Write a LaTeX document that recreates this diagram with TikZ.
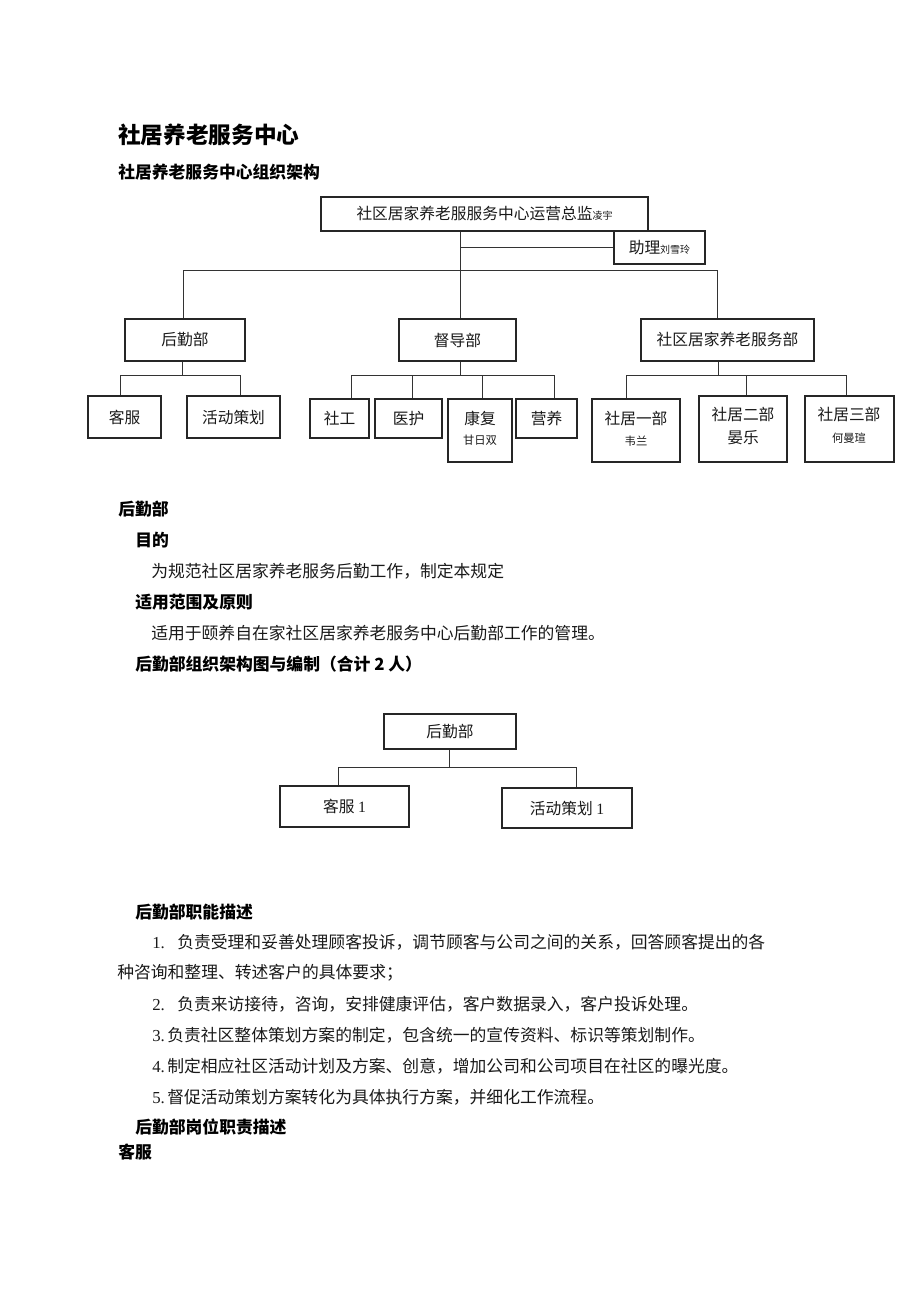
\documentclass[tikz,border=0pt]{standalone}
\usepackage{fontspec}
\setmainfont{Noto Sans CJK SC}
\newfontfamily\latn{Liberation Serif}
\usetikzlibrary{fit}
\begin{document}
\begin{tikzpicture}[x=0.75pt,y=-0.75pt,
  box/.style={draw=black!85, line width=0.8pt, inner sep=0pt, fit={#1}},
  wire/.style={draw=black!80, line width=0.75pt},
  txt/.style={inner sep=0pt, font=\fontsize{11.8}{14}\selectfont, text=black!90},
  sm/.style={inner sep=0pt, font=\fontsize{8.5}{10}\selectfont, text=black!90},
  body/.style={inner sep=0pt, anchor=west, font=\fontsize{12.6}{15}\selectfont, text=black!90},
  head/.style={inner sep=0pt, anchor=west, font=\fontsize{12.6}{15}\selectfont\bfseries, text=black},
  title/.style={inner sep=0pt, anchor=west, font=\fontsize{17}{20}\selectfont\bfseries, text=black}]
\useasboundingbox (0,0) rectangle (920,1302);
\newcommand{\tinyname}[1]{{\fontsize{7.5}{9}\selectfont #1}}
\newcommand{\numw}[1]{\makebox[18.75pt][l]{\latn #1}}
\newcommand{\numn}[1]{\makebox[11.25pt][l]{\latn #1}}

% headings
\node[title] (t1) at (118,135) {社居养老服务中心};
\node[head] (t2) at (118,172) {社居养老服务中心组织架构};

% ---------- main chart ----------
\node[box={(321,197)(648,231)}] (ceo) {};
\node[txt] (ceot) at (ceo.center) {社区居家养老服服务中心运营总监\tinyname{凌宇}};
\node[box={(614,231)(705,264)}] (asst) {};
\node[txt] (asstt) at (asst.center) {助理\tinyname{刘雪玲}};

\coordinate (bus0) at (460,270);
\coordinate (busL) at (183,270);
\coordinate (busR) at (717,270);
\draw[wire] (bus0 |- ceo.south) -- (bus0);
\draw[wire] (bus0 |- asst.west) -- (asst.west);
\draw[wire] (busL) -- (busR);

\node[box={(125,319)(245,361)}] (hq) {};
\node[txt] (hqt) at (hq.center) {后勤部};
\node[box={(399,319)(516,361)}] (sup) {};
\node[txt] (supt) at (sup.center) {督导部};
\node[box={(641,319)(814,361)}] (svc) {};
\node[txt] (svct) at (svc.center) {社区居家养老服务部};

\draw[wire] (busL) -- (busL |- hq.north);
\draw[wire] (bus0) -- (bus0 |- sup.north);
\draw[wire] (busR) -- (busR |- svc.north);

% hq children
\node[box={(88,396)(161,438)}] (kf) {};
\node[txt] (kft) at (kf.center) {客服};
\node[box={(187,396)(280,438)}] (hd) {};
\node[txt] (hdt) at (hd.center) {活动策划};
\coordinate (hqb) at (182,375);
\coordinate (hqbl) at (120,375);
\coordinate (hqbr) at (240,375);
\draw[wire] (hqb |- hq.south) -- (hqb);
\draw[wire] (hqbl |- kf.north) -- (hqbl) -- (hqbr) -- (hqbr |- hd.north);

% sup children
\node[box={(310,399)(369,438)}] (sg) {};
\node[txt] (sgt) at (sg.center) {社工};
\node[box={(375,399)(442,438)}] (yh) {};
\node[txt] (yht) at (yh.center) {医护};
\node[box={(448,399)(512,462)}] (kfu) {};
\node[txt] (kfut) at (480,418) {康复};
\node[sm] (kfun) at (480,440) {甘日双};
\node[box={(516,399)(577,438)}] (yy) {};
\node[txt] (yyt) at (yy.center) {营养};
\coordinate (supb) at (460,375);
\coordinate (sb1) at (351,375);
\coordinate (sb2) at (412,375);
\coordinate (sb3) at (482,375);
\coordinate (sb4) at (554,375);
\draw[wire] (supb |- sup.south) -- (supb);
\draw[wire] (sb1) -- (sb4);
\draw[wire] (sb1) -- (sb1 |- sg.north);
\draw[wire] (sb2) -- (sb2 |- yh.north);
\draw[wire] (sb3) -- (sb3 |- kfu.north);
\draw[wire] (sb4) -- (sb4 |- yy.north);

% svc children
\node[box={(592,399)(680,462)}] (s1) {};
\node[txt] (s1t) at (636,418) {社居一部};
\node[sm] (s1n) at (636,441) {韦兰};
\node[box={(699,396)(787,462)}] (s2) {};
\node[txt] (s2t) at (743,414) {社居二部};
\node[txt] (s2n) at (743,438) {晏乐};
\node[box={(805,396)(894,462)}] (s3) {};
\node[txt] (s3t) at (849,414) {社居三部};
\node[sm] (s3n) at (849,438) {何曼瑄};
\coordinate (svcb) at (718,375);
\coordinate (vb1) at (626,375);
\coordinate (vb2) at (746,375);
\coordinate (vb3) at (846,375);
\draw[wire] (svcb |- svc.south) -- (svcb);
\draw[wire] (vb1) -- (vb3);
\draw[wire] (vb1) -- (vb1 |- s1.north);
\draw[wire] (vb2) -- (vb2 |- s2.north);
\draw[wire] (vb3) -- (vb3 |- s3.north);

% ---------- text section 1 ----------
\node[head] (h1) at (118,509) {后勤部};
\node[head] (h2) at (135,540) {目的};
\node[body] (b1) at (151,571) {为规范社区居家养老服务后勤工作，制定本规定};
\node[head] (h3) at (135,602) {适用范围及原则};
\node[body] (b2) at (151,633) {适用于颐养自在家社区居家养老服务中心后勤部工作的管理。};
\node[head] (h4) at (135,664) {后勤部组织架构图与编制（合计 2 人）};

% ---------- second chart ----------
\node[box={(384,714)(516,749)}] (hq2) {};
\node[txt] (hq2t) at (hq2.center) {后勤部};
\node[box={(280,786)(409,827)}] (kf2) {};
\node[txt] (kf2t) at (kf2.center) {客服 {\latn 1}};
\node[box={(502,788)(632,828)}] (hd2) {};
\node[txt] (hd2t) at (hd2.center) {活动策划 {\latn 1}};
\coordinate (b2c) at (449,767);
\coordinate (b2l) at (338,767);
\coordinate (b2r) at (576,767);
\draw[wire] (b2c |- hq2.south) -- (b2c);
\draw[wire] (b2l |- kf2.north) -- (b2l) -- (b2r) -- (b2r |- hd2.north);

% ---------- text section 2 ----------
\node[head] (h5) at (135,912) {后勤部职能描述};
\node[body] (l1) at (152,942) {\numw{1.}负责受理和妥善处理顾客投诉，调节顾客与公司之间的关系，回答顾客提出的各};
\node[body] (l1b) at (117,973) {种咨询和整理、转述客户的具体要求；};
\node[body] (l2) at (152,1004) {\numw{2.}负责来访接待，咨询，安排健康评估，客户数据录入，客户投诉处理。};
\node[body] (l3) at (152,1035) {\numn{3.}负责社区整体策划方案的制定，包含统一的宣传资料、标识等策划制作。};
\node[body] (l4) at (152,1066) {\numn{4.}制定相应社区活动计划及方案、创意，增加公司和公司项目在社区的曝光度。};
\node[body] (l5) at (152,1097) {\numn{5.}督促活动策划方案转化为具体执行方案，并细化工作流程。};
\node[head] (h6) at (135,1127) {后勤部岗位职责描述};
\node[head] (h7) at (118,1152) {客服};
\end{tikzpicture}
\end{document}
